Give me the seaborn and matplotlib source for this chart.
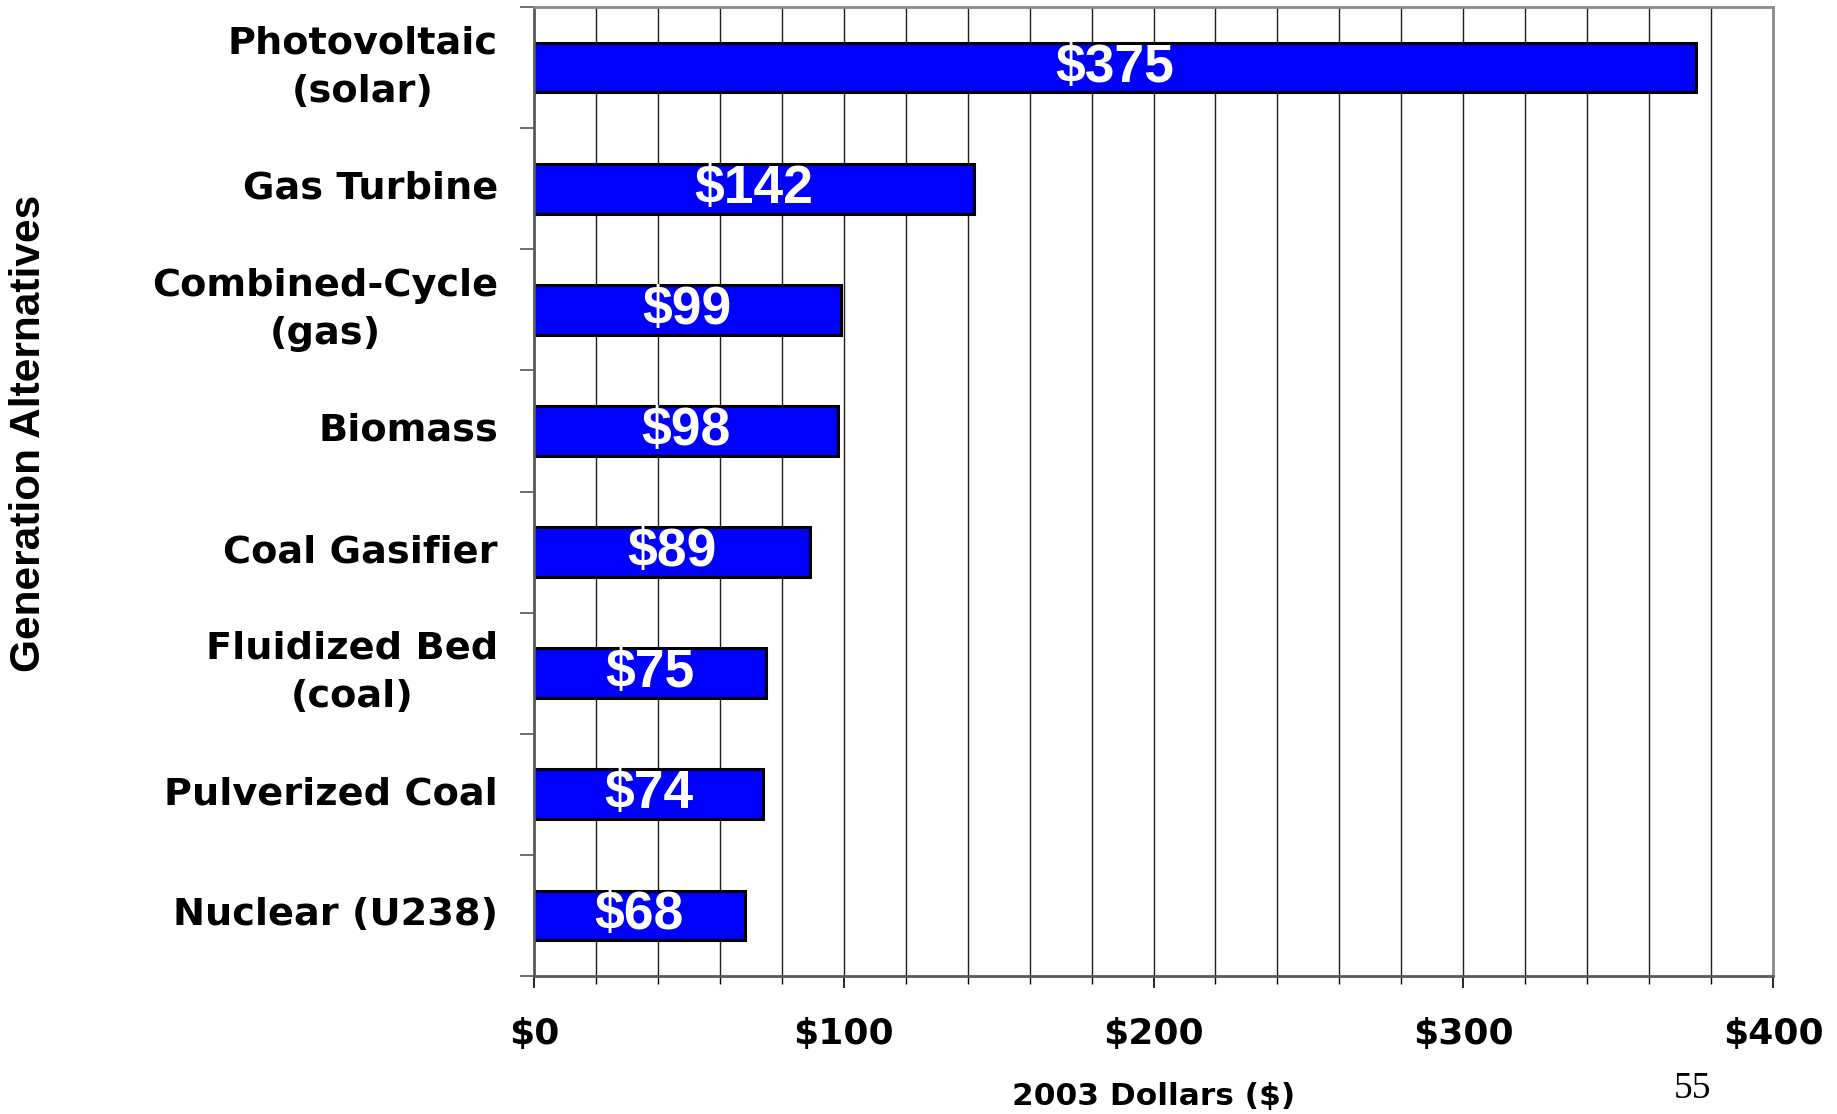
import matplotlib
matplotlib.use("Agg")
import matplotlib.pyplot as plt
import matplotlib.patheffects as pe
from matplotlib.ticker import MultipleLocator, FixedLocator
import pandas as pd
import seaborn as sns

# Levelized generation cost by technology (2003 dollars)
alternatives = [
    "Photovoltaic\n(solar)",
    "Gas Turbine",
    "Combined-Cycle\n(gas)",
    "Biomass",
    "Coal Gasifier",
    "Fluidized Bed\n(coal)",
    "Pulverized Coal",
    "Nuclear (U238)",
]
costs = [375, 142, 99, 98, 89, 75, 74, 68]
x_ticks = [0, 100, 200, 300, 400]
x_tick_labels = ["$0", "$100", "$200", "$300", "$400"]

df = pd.DataFrame({"alternative": alternatives, "cost": costs})

sns.set_style("white")
plt.rcParams.update({
    "font.family": ["DejaVu Sans"],
    "text.color": "black",
    "axes.labelcolor": "black",
    "xtick.color": "black",
    "ytick.color": "black",
})

fig = plt.figure(figsize=(18.37, 11.14), dpi=100)
ax = fig.add_axes([534 / 1837, 138 / 1114, 1239 / 1837, 969 / 1114])

sns.barplot(
    data=df, x="cost", y="alternative", orient="h", ax=ax,
    color="#0000FF", saturation=1, width=0.41,
    edgecolor="black", linewidth=2.2, zorder=3,
)
for bar in ax.patches:
    bar.set_path_effects([
        pe.SimplePatchShadow(offset=(1.5, -1.5), shadow_rgbFace="#c8c8c8", alpha=1),
        pe.Normal(),
    ])

# value labels centred in each bar
ax.bar_label(
    ax.containers[0], labels=[f"${v}" for v in costs], label_type="center",
    color="white", fontsize=38.5, fontweight="bold", family="Liberation Sans",
)

# x axis: $0-$400 with gridlines every $20
ax.set_xlim(0, 400)
ax.xaxis.set_major_locator(FixedLocator(x_ticks))
ax.set_xticklabels(x_tick_labels, fontsize=26, fontweight="bold")
ax.xaxis.set_minor_locator(MultipleLocator(20))
ax.grid(True, axis="x", which="both", color="#1e1e1e", linewidth=1.0, zorder=0)
ax.set_axisbelow(True)
ax.tick_params(axis="x", which="major", bottom=True, direction="out", length=8.5,
               width=1.2, color="black", pad=21)
ax.tick_params(axis="x", which="minor", bottom=True, direction="out", length=6,
               width=1.0, color="black")

# y axis: labels at category centres, ticks at category boundaries
n = len(alternatives)
ax.set_ylim(n - 0.5, -0.5)
ax.yaxis.set_minor_locator(FixedLocator([i - 0.5 for i in range(n + 1)]))
ax.tick_params(axis="y", which="major", left=True, length=0, pad=26)
ax.tick_params(axis="y", which="minor", left=True, direction="out", length=10,
               width=1.2, color="#555555")
for lbl in ax.get_yticklabels():
    lbl.set_fontsize(27.5)
    lbl.set_fontweight("bold")
    lbl.set_multialignment("center")
    lbl.set_linespacing(1.45)
    lbl.set_verticalalignment("center")

for side in ["top", "right", "bottom", "left"]:
    ax.spines[side].set_visible(True)
    ax.spines[side].set_linewidth(2.0)
    ax.spines[side].set_zorder(4)
for side in ["top", "right"]:
    ax.spines[side].set_color("#8a8a8a")
for side in ["bottom", "left"]:
    ax.spines[side].set_color("#5a5a5a")

ax.set_xlabel("2003 Dollars ($)", fontsize=22.5, fontweight="bold", va="center")
ax.xaxis.set_label_coords(0.5, (976 - 1097) / 969)
ax.set_ylabel("Generation Alternatives", fontsize=30.5, fontweight="bold",
              family="Liberation Sans", va="center")
ax.yaxis.set_label_coords((29 - 534) / 1239, (976 - 433) / 969)

# slide page number
fig.text(1693 / 1837, 1 - 1089 / 1114, "55", fontsize=27, family="Liberation Serif",
         ha="center", va="center")

fig.savefig("out.png", dpi=100, facecolor="white")
